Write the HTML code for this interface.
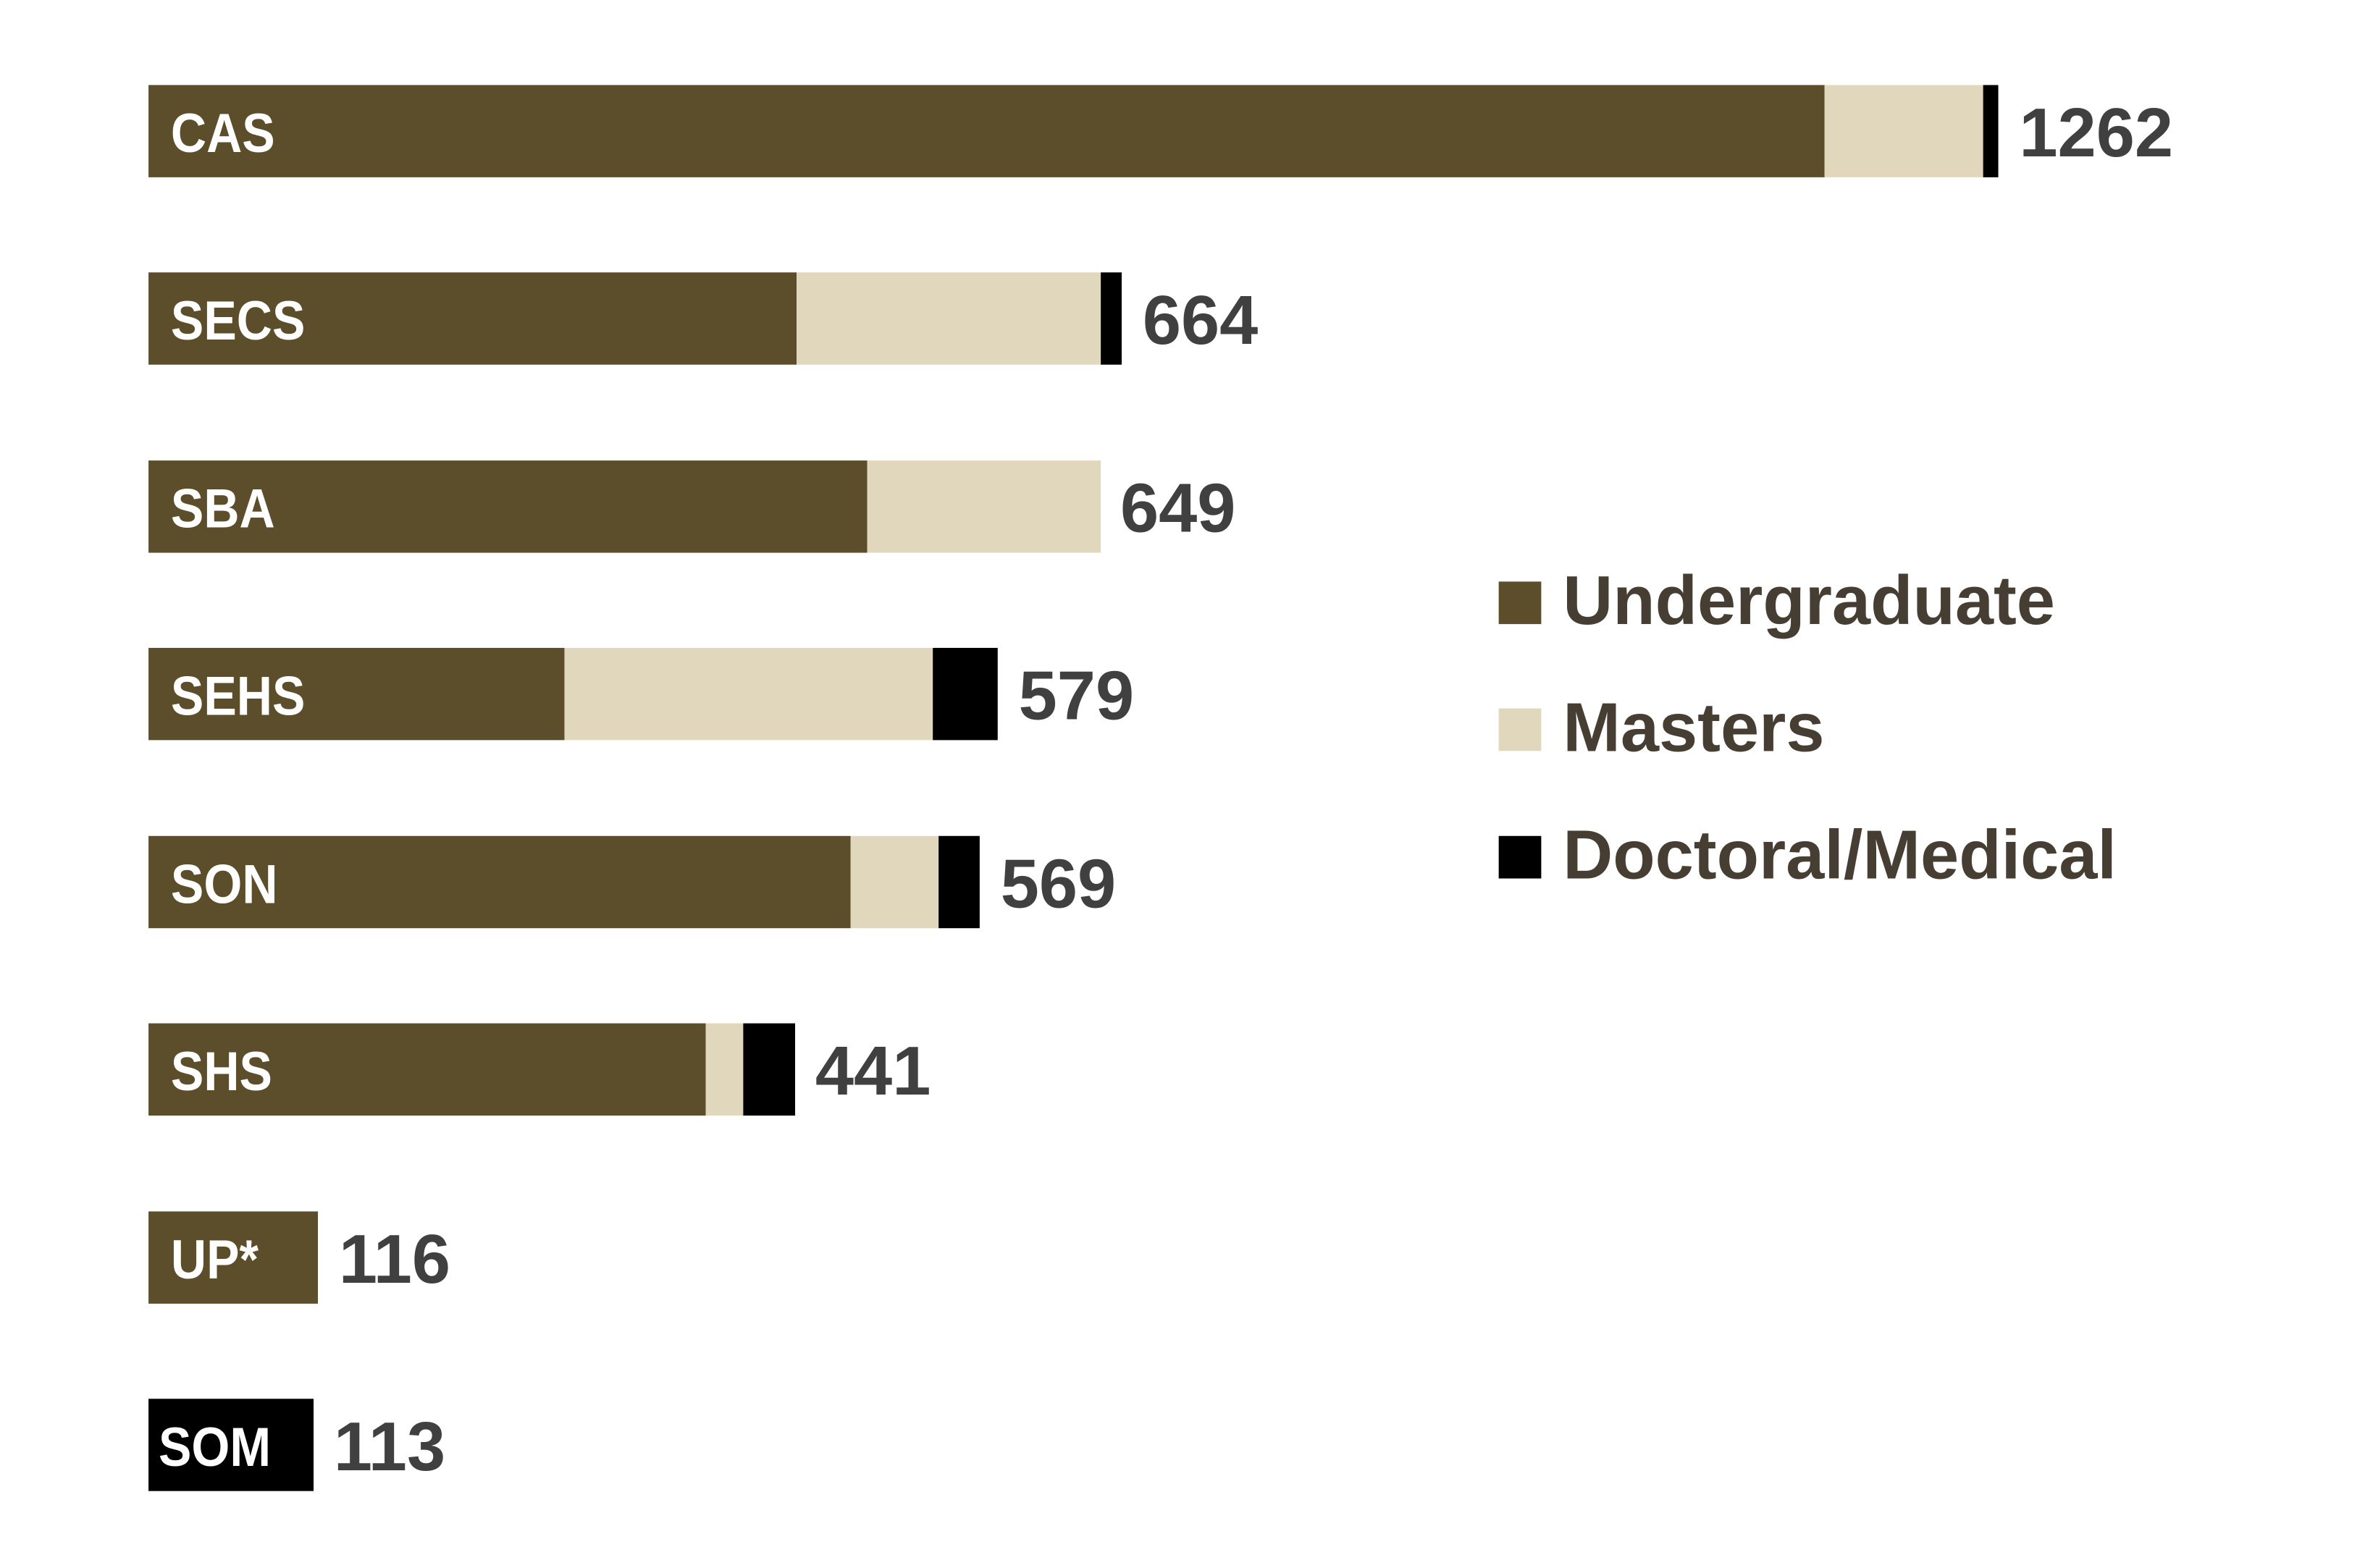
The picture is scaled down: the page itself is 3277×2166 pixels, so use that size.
<!DOCTYPE html>
<html><head><meta charset="utf-8"><style>
body{margin:0;width:3277px;height:2166px;background:#fff;position:relative;overflow:hidden;font-family:"Liberation Sans",sans-serif;font-weight:bold}
#w{position:absolute;left:0;top:0;width:3277px;height:2166px;transform:scale(0.9955);transform-origin:0 0}
.s{position:absolute;height:128px}
.b{background:#5c4d2b}.m{background:#e0d7bc}.d{background:#000}
.l{position:absolute;left:237px;height:128px;line-height:136px;color:#fff;font-size:76px;transform:scaleX(0.9);transform-origin:0 50%}
.v{position:absolute;height:128px;line-height:134px;color:#404040;font-size:96px}
.k{position:absolute;left:2079px;width:59px;height:59px}
.t{position:absolute;left:2168px;height:120px;line-height:120px;font-size:96px;color:#463d33}
</style></head><body><div id="w">
<!-- CAS -->
<div class="s b" style="top:118px;left:206px;width:2325px"></div>
<div class="s m" style="top:118px;left:2531px;width:220px"></div>
<div class="s d" style="top:118px;left:2751px;width:21px"></div>
<div class="l" style="top:118px">CAS</div>
<div class="v" style="top:118px;left:2801px">1262</div>
<!-- SECS -->
<div class="s b" style="top:378px;left:206px;width:899px"></div>
<div class="s m" style="top:378px;left:1105px;width:422px"></div>
<div class="s d" style="top:378px;left:1527px;width:29px"></div>
<div class="l" style="top:378px">SECS</div>
<div class="v" style="top:378px;left:1585px">664</div>
<!-- SBA -->
<div class="s b" style="top:639px;left:206px;width:997px"></div>
<div class="s m" style="top:639px;left:1203px;width:324px"></div>
<div class="l" style="top:639px">SBA</div>
<div class="v" style="top:639px;left:1554px">649</div>
<!-- SEHS -->
<div class="s b" style="top:899px;left:206px;width:577px"></div>
<div class="s m" style="top:899px;left:783px;width:511px"></div>
<div class="s d" style="top:899px;left:1294px;width:90px"></div>
<div class="l" style="top:899px">SEHS</div>
<div class="v" style="top:899px;left:1413px">579</div>
<!-- SON -->
<div class="s b" style="top:1160px;left:206px;width:974px"></div>
<div class="s m" style="top:1160px;left:1180px;width:122px"></div>
<div class="s d" style="top:1160px;left:1302px;width:57px"></div>
<div class="l" style="top:1160px">SON</div>
<div class="v" style="top:1160px;left:1388px">569</div>
<!-- SHS -->
<div class="s b" style="top:1420px;left:206px;width:773px"></div>
<div class="s m" style="top:1420px;left:979px;width:52px"></div>
<div class="s d" style="top:1420px;left:1031px;width:72px"></div>
<div class="l" style="top:1420px">SHS</div>
<div class="v" style="top:1420px;left:1131px">441</div>
<!-- UP -->
<div class="s b" style="top:1681px;left:206px;width:235px"></div>
<div class="l" style="top:1681px">UP*</div>
<div class="v" style="top:1681px;left:470px">116</div>
<!-- SOM -->
<div class="s d" style="top:1941px;left:206px;width:229px"></div>
<div class="l" style="top:1941px;left:220px">SOM</div>
<div class="v" style="top:1941px;left:463px">113</div>
<!-- legend -->
<div class="k b" style="top:807px"></div>
<div class="t" style="top:774px">Undergraduate</div>
<div class="k m" style="top:983px"></div>
<div class="t" style="top:950px">Masters</div>
<div class="k d" style="top:1160px"></div>
<div class="t" style="top:1127px">Doctoral/Medical</div>
</div></body></html>
